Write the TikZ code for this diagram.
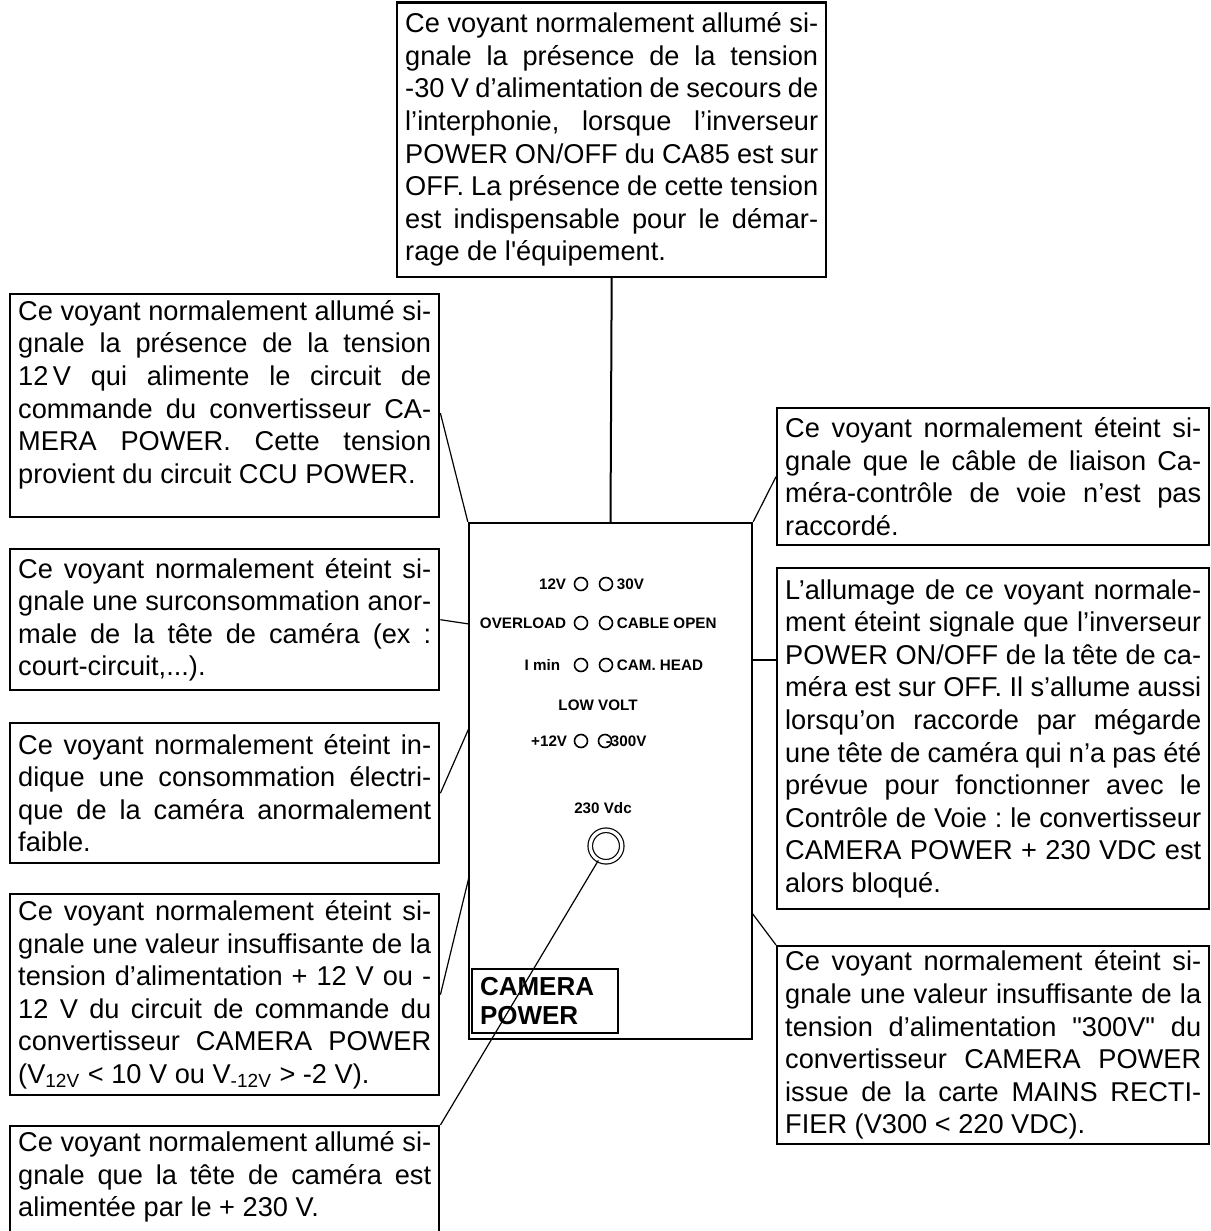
\documentclass[tikz,border=0pt]{standalone}
\usepackage{fontspec}
\setmainfont{Liberation Sans}
\usetikzlibrary{positioning}
\newcommand{\jl}[1]{\noindent\hbox to\hsize{\spaceskip=0pt\xspaceskip=0pt #1}}
\newcommand{\fl}[1]{\noindent\hbox{\spaceskip=0pt\xspaceskip=0pt #1}}
\frenchspacing

\begin{document}
\begin{tikzpicture}[x=0.5pt,y=-0.5pt,
 note/.style={draw,line width=1.2pt,anchor=north west,text width=206.5pt,inner xsep=4pt,inner ysep=0pt,align=left,font=\fontsize{13.6}{16.3}\selectfont},
 lead/.style={line width=0.6pt},
 led/.style={circle,draw,line width=0.8pt,minimum size=6.5pt,inner sep=0pt,outer sep=0pt},
 lbl/.style={inner sep=0pt,font=\bfseries\fontsize{7.6}{9}\selectfont}]
\path[use as bounding box,clip] (0,0) rectangle (1210,1231);
\node[note,minimum height=137pt] (T) at (396,1.5) {\jl{Ce voyant normalement allumé si-}\\ \jl{gnale la présence de la tension}\\ \jl{-30 V d’alimentation de secours de}\\ \jl{l’interphonie, lorsque l’inverseur}\\ \jl{POWER ON/OFF du CA85 est sur}\\ \jl{OFF. La présence de cette tension}\\ \jl{est indispensable pour le démar-}\\ \fl{rage de l\textquotesingle équipement.}};
\node[note,minimum height=111.5pt] (L1) at (9,293) {\jl{Ce voyant normalement allumé si-}\\ \jl{gnale la présence de la tension}\\ \jl{12\,V qui alimente le circuit de}\\ \jl{commande du convertisseur CA-}\\ \jl{MERA POWER. Cette tension}\\ \fl{provient du circuit CCU POWER.}\rule[-14pt]{0pt}{14pt}};
\node[note,minimum height=70.5pt] (L2) at (9,548) {\jl{Ce voyant normalement éteint si-}\\ \jl{gnale une surconsommation anor-}\\ \jl{male de la tête de caméra (ex :}\\ \fl{court-circuit,...).}};
\node[note,minimum height=70pt] (L3) at (9,722) {\jl{Ce voyant normalement éteint in-}\\ \jl{dique une consommation électri-}\\ \jl{que de la caméra anormalement}\\ \fl{faible.}};
\node[note,minimum height=100.5pt] (L4) at (9,893) {\jl{Ce voyant normalement éteint si-}\\ \jl{gnale une valeur insuffisante de la}\\ \jl{tension d’alimentation + 12 V ou -}\\ \jl{12 V du circuit de commande du}\\ \jl{convertisseur CAMERA POWER}\\ \fl{(V\textsubscript{12V} < 10 V ou V\textsubscript{-12V} > -2 V).}};
\node[note,minimum height=60pt] (L5) at (9,1125) {\jl{Ce voyant normalement allumé si-}\\ \jl{gnale que la tête de caméra est}\\ \fl{alimentée par le + 230 V.}\rule[-12pt]{0pt}{12pt}};
\node[note,minimum height=68.5pt,text width=208pt] (R1) at (776,407) {\jl{Ce voyant normalement éteint si-}\\ \jl{gnale que le câble de liaison Ca-}\\ \jl{méra-contrôle de voie n’est pas}\\ \fl{raccordé.}};
\node[note,minimum height=170.5pt,text width=208pt] (R2) at (776,567) {\jl{L’allumage de ce voyant normale-}\\ \jl{ment éteint signale que l’inverseur}\\ \jl{POWER ON/OFF de la tête de ca-}\\ \jl{méra est sur OFF. Il s’allume aussi}\\ \jl{lorsqu’on raccorde par mégarde}\\ \jl{une tête de caméra qui n’a pas été}\\ \jl{prévue pour fonctionner avec le}\\ \jl{Contrôle de Voie : le convertisseur}\\ \jl{CAMERA POWER + 230 VDC est}\\ \fl{alors bloqué.}};
\node[note,minimum height=99pt,text width=208pt] (R3) at (776,945) {\jl{Ce voyant normalement éteint si-}\\ \jl{gnale une valeur insuffisante de la}\\ \jl{tension d’alimentation \textquotedbl 300V\textquotedbl\ du}\\ \jl{convertisseur CAMERA POWER}\\ \jl{issue de la carte MAINS RECTI-}\\ \fl{FIER (V300 < 220 VDC).}};
\node[draw,line width=1.2pt,minimum width=141.5pt,minimum height=258pt] (panel) at (610.5,781) {};
\node[draw,line width=1pt,anchor=north west,minimum width=73pt,minimum height=32pt,text width=65pt,inner xsep=4pt,inner ysep=0pt,align=left,font=\bfseries\fontsize{13}{14.5}\selectfont] (cam) at (471,968) {CAMERA\\POWER};
\node[led] (a1) at (581,584) {};
\node[led] (b1) at (606,584) {};
\node[led] (a2) at (581,623) {};
\node[led] (b2) at (606,623) {};
\node[led] (a3) at (581,665) {};
\node[led] (b3) at (606,665) {};
\node[led] (a4) at (581,741) {};
\node[led] (b4) at (605,741) {};
\node[lbl,left=4pt of a1] (t1) {12V};
\node[lbl,right=2pt of b1] (u1) {30V};
\node[lbl,left=4pt of a2] (t2) {OVERLOAD};
\node[lbl,right=2pt of b2] (u2) {CABLE OPEN};
\node[lbl,left=7pt of a3] (t3) {I min};
\node[lbl,right=2pt of b3] (u3) {CAM. HEAD};
\node[lbl] (lv) at (598,705) {LOW VOLT};
\node[lbl,left=3.5pt of a4] (t4) {+12V};
\node[lbl,right=-3pt of b4] (u4) {-300V};
\node[lbl] (vdc) at (603,808) {230 Vdc};
\node[circle,draw,double,line width=0.6pt,double distance=1.65pt,minimum size=15.75pt,inner sep=0pt] (jack) at (606,846) {};
\coordinate (p2) at (469,624);
\coordinate (p3) at (469,728);
\coordinate (p4) at (469,877);
\coordinate (p6) at (752,660);
\coordinate (p7) at (752,913);
\draw[lead,line width=1pt] (T.south) -- (panel.north);
\draw[lead] ([yshift=-3.75pt]L1.east) -- (panel.north west);
\draw[lead] (L2.east) -- (p2);
\draw[lead] (L3.east) -- (p3);
\draw[lead] (L4.east) -- (p4);
\draw[lead] (L5.north east) -- (jack.242);
\draw[lead] (R1.west) -- (panel.north east);
\draw[lead,line width=1pt] (p6) -- (p6 -| R2.west);
\draw[lead] (p7) -- (R3.north west);
\end{tikzpicture}
\end{document}
